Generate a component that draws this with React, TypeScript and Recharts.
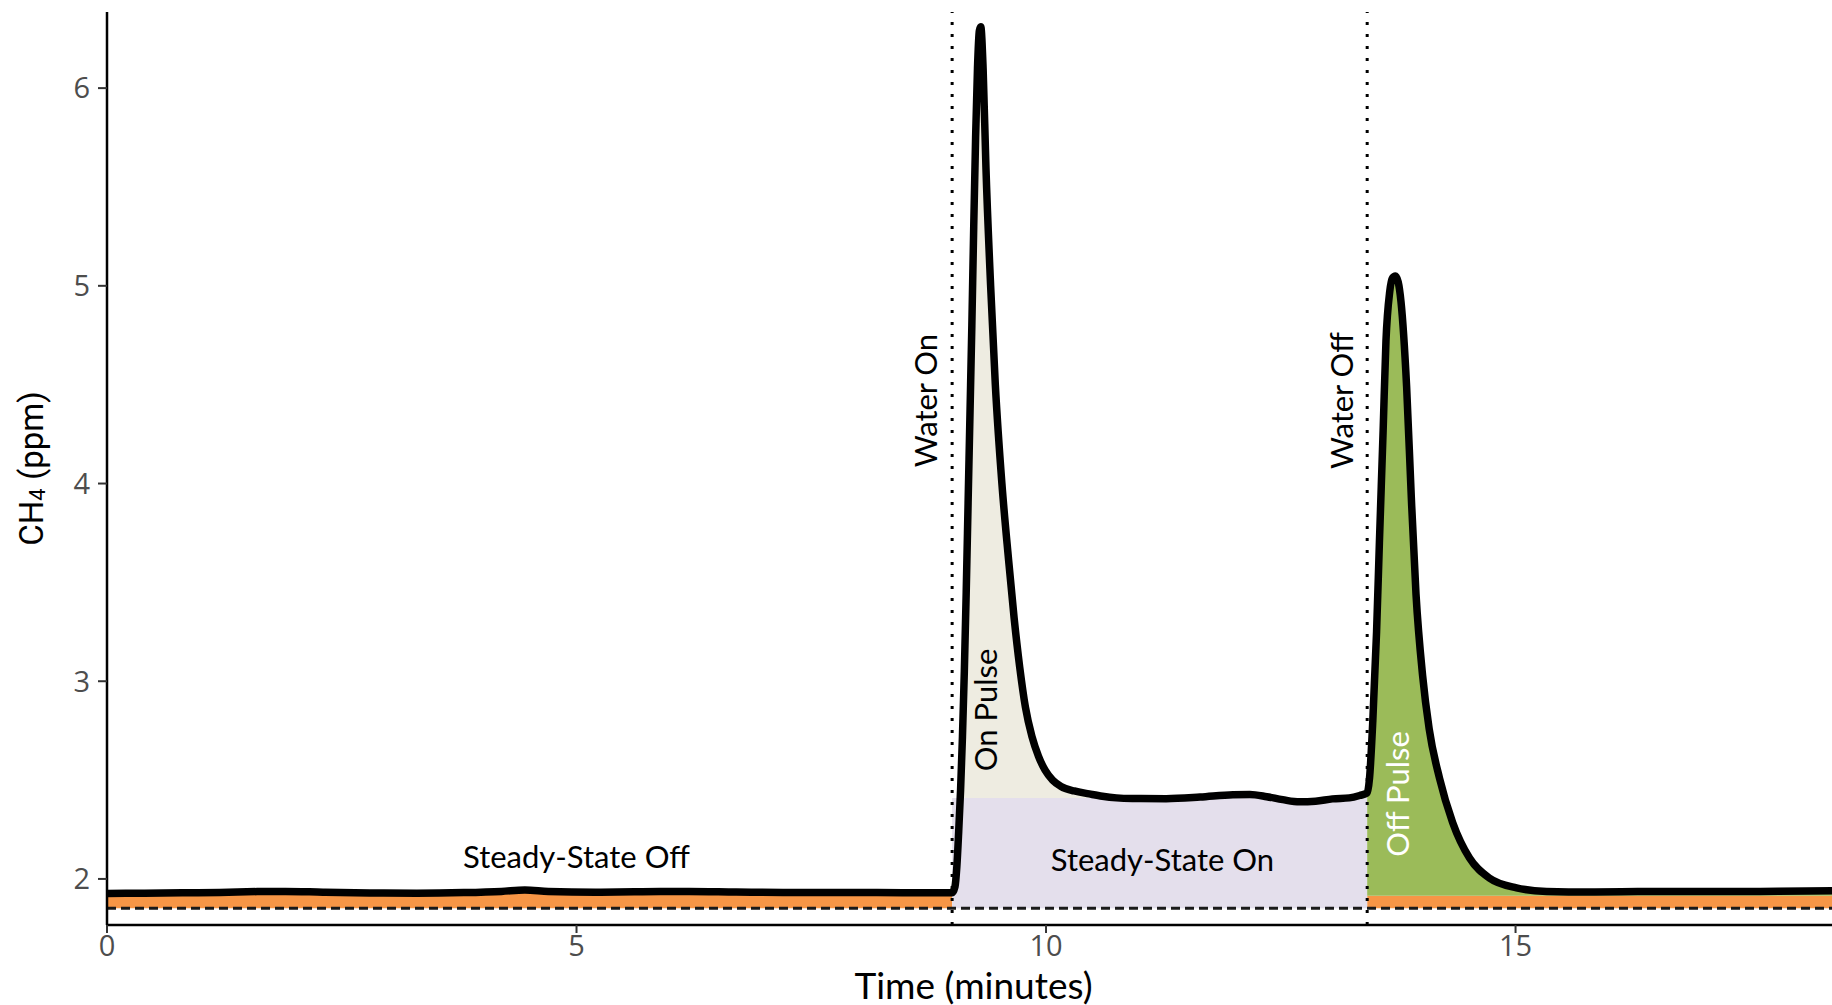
import {
  ComposedChart,
  Area,
  Line,
  XAxis,
  YAxis,
  ReferenceLine,
  ReferenceDot,
} from 'recharts'

// minutes since start of the run
const time = [
  0, 0.4, 0.8, 1.2, 1.6, 1.9, 2.3, 2.8, 3.3, 3.8, 4.2, 4.45, 4.7, 5.2, 5.7, 6.2,
  6.7, 7.2, 7.7, 8.2, 8.6, 9.0,
  9.03, 9.05, 9.07, 9.09, 9.11, 9.13, 9.15, 9.17, 9.19, 9.21, 9.23, 9.25, 9.27,
  9.29, 9.305, 9.33, 9.36, 9.41, 9.46, 9.53, 9.6, 9.66, 9.72, 9.78, 9.85, 9.92,
  9.99, 10.07, 10.16, 10.3, 10.46, 10.6, 10.75,
  10.92, 11.28, 11.64, 11.99, 12.17, 12.35, 12.52, 12.7, 12.87, 13.05, 13.23,
  13.34, 13.42,
  13.445, 13.48, 13.52, 13.55, 13.59, 13.62, 13.66, 13.69, 13.72, 13.75, 13.78,
  13.84, 13.89, 13.94, 14.01, 14.08, 14.19, 14.33, 14.51, 14.72, 15.01, 15.33,
  15.8, 16.3, 16.8, 17.3, 17.8, 18.37,
]

// CH4 (ppm)
const ch4 = [
  1.926, 1.928, 1.93, 1.932, 1.936, 1.937, 1.933, 1.929, 1.928, 1.931, 1.937,
  1.944, 1.937, 1.933, 1.935, 1.937, 1.934, 1.932, 1.932, 1.931, 1.93, 1.93,
  1.96, 2.06, 2.24, 2.45, 2.72, 3.05, 3.45, 3.9, 4.35, 4.8, 5.3, 5.75, 6.1,
  6.29, 6.31, 6.1, 5.6, 5.0, 4.5, 4.0, 3.62, 3.32, 3.07, 2.87, 2.72, 2.62,
  2.55, 2.5, 2.468, 2.445, 2.43, 2.418, 2.41,
  2.407, 2.406, 2.414, 2.426, 2.427, 2.416, 2.401, 2.39, 2.393, 2.405, 2.41,
  2.422, 2.435,
  2.51, 2.8, 3.25, 3.7, 4.27, 4.72, 4.97, 5.04, 5.05, 5.02, 4.92,
  4.49, 3.93, 3.44, 3.03, 2.76, 2.51, 2.286, 2.106, 2.005, 1.955, 1.937,
  1.934, 1.936, 1.937, 1.936, 1.938, 1.94,
]

const xTicks = [0, 5, 10, 15]
const yTicks = [2, 3, 4, 5, 6]

const waterOn = 9.0
const waterOff = 13.42
const backgroundLevel = 1.852
const offLevel = 1.915
const onLevel = 2.41

const rows = time.map((t, i) => {
  const v = ch4[i]
  const during = t >= waterOn && t <= waterOff
  return {
    t,
    ch4: v,
    offBand:
      t <= waterOn
        ? [backgroundLevel, v]
        : t >= waterOff
          ? [backgroundLevel, offLevel]
          : null,
    onSteady: during ? [backgroundLevel, onLevel] : null,
    onPulse: during ? [onLevel, Math.max(v, onLevel)] : null,
    offPulse: t >= waterOff ? [offLevel, v] : null,
  }
})

const labelFont = 'Lato, "Open Sans", sans-serif'

function Note(props: any) {
  const vb = props.viewBox ?? props
  const x = vb.x + (vb.width ?? 0) / 2
  const y = vb.y + (vb.height ?? 0) / 2
  return (
    <text
      x={x}
      y={y}
      transform={props.turn ? `rotate(${props.turn} ${x} ${y})` : undefined}
      textAnchor="middle"
      dominantBaseline="central"
      fill={props.color ?? '#000'}
      fontSize={31}
      fontFamily={labelFont}
    >
      {props.text}
    </text>
  )
}

function YTitle(props: any) {
  const vb = props.viewBox
  const x = vb.x + 31
  const y = vb.y + vb.height / 2
  return (
    <text
      x={x}
      y={y}
      transform={`rotate(-90 ${x} ${y})`}
      textAnchor="middle"
      dominantBaseline="central"
      fontSize={33}
      fontFamily="Roboto, sans-serif"
      fill="#000"
    >
      CH
      <tspan fontSize={22} dy={6}>4</tspan>
      <tspan dy={-6}> (ppm)</tspan>
    </text>
  )
}

function XTitle(props: any) {
  const vb = props.viewBox
  return (
    <text
      x={vb.x + vb.width / 2 + 4}
      y={vb.y + 59}
      textAnchor="middle"
      dominantBaseline="central"
      fontSize={37}
      fontFamily={labelFont}
      fill="#000"
    >
      Time (minutes)
    </text>
  )
}

const tickStyle = { fontSize: 29, fill: '#4d4d4d', fontFamily: '"Open Sans", sans-serif' }

export default function App() {
  return (
    <div style={{ position: 'absolute', left: 0, top: 0, background: '#fff' }}>
      <ComposedChart
        width={1832}
        height={1005}
        data={rows}
        margin={{ top: 12, right: 0, bottom: 0, left: 0 }}
      >
        <XAxis
          dataKey="t"
          type="number"
          domain={[0, 18.37]}
          ticks={xTicks}
          allowDataOverflow
          height={80}
          tick={tickStyle}
          tickSize={8}
          tickMargin={2}
          axisLine={{ stroke: '#000', strokeWidth: 2.5 }}
          tickLine={{ stroke: '#333', strokeWidth: 2 }}
          label={<XTitle />}
        />
        <YAxis
          type="number"
          domain={[1.767, 6.385]}
          ticks={yTicks}
          allowDataOverflow
          width={107}
          tick={tickStyle}
          tickSize={9}
          tickMargin={8}
          axisLine={{ stroke: '#000', strokeWidth: 2.5 }}
          tickLine={{ stroke: '#333', strokeWidth: 2 }}
          label={<YTitle />}
        />
        <Area
          dataKey="offBand"
          type="monotone"
          fill="#f79646"
          fillOpacity={1}
          stroke="none"
          isAnimationActive={false}
        />
        <Area
          dataKey="onSteady"
          type="linear"
          fill="#e4dfec"
          fillOpacity={1}
          stroke="none"
          isAnimationActive={false}
        />
        <Area
          dataKey="onPulse"
          type="monotone"
          fill="#eeece1"
          fillOpacity={1}
          stroke="none"
          isAnimationActive={false}
        />
        <Area
          dataKey="offPulse"
          type="monotone"
          fill="#9bbb59"
          fillOpacity={1}
          stroke="none"
          isAnimationActive={false}
        />
        <ReferenceLine y={backgroundLevel} stroke="#1a1a1a" strokeWidth={3} strokeDasharray="9 5" />
        <ReferenceLine x={waterOn} stroke="#000" strokeWidth={3} strokeDasharray="3 9" />
        <ReferenceLine x={waterOff} stroke="#000" strokeWidth={3} strokeDasharray="3 9" />
        <Line
          dataKey="ch4"
          type="monotone"
          stroke="#000"
          strokeWidth={7.5}
          strokeLinejoin="round"
          strokeLinecap="round"
          dot={false}
          isAnimationActive={false}
        />
        <ReferenceDot x={8.71} y={4.42} r={0} stroke="none" label={<Note text="Water On" turn={-90} />} />
        <ReferenceDot x={13.14} y={4.42} r={0} stroke="none" label={<Note text="Water Off" turn={-90} />} />
        <ReferenceDot x={9.35} y={2.855} r={0} stroke="none" label={<Note text="On Pulse" turn={-90} />} />
        <ReferenceDot
          x={13.74}
          y={2.43}
          r={0}
          stroke="none"
          label={<Note text="Off Pulse" turn={-90} color="#fff" />}
        />
        <ReferenceDot x={11.24} y={2.1} r={0} stroke="none" label={<Note text="Steady-State On" />} />
        <ReferenceDot x={5.0} y={2.115} r={0} stroke="none" label={<Note text="Steady-State Off" />} />
      </ComposedChart>
    </div>
  )
}
